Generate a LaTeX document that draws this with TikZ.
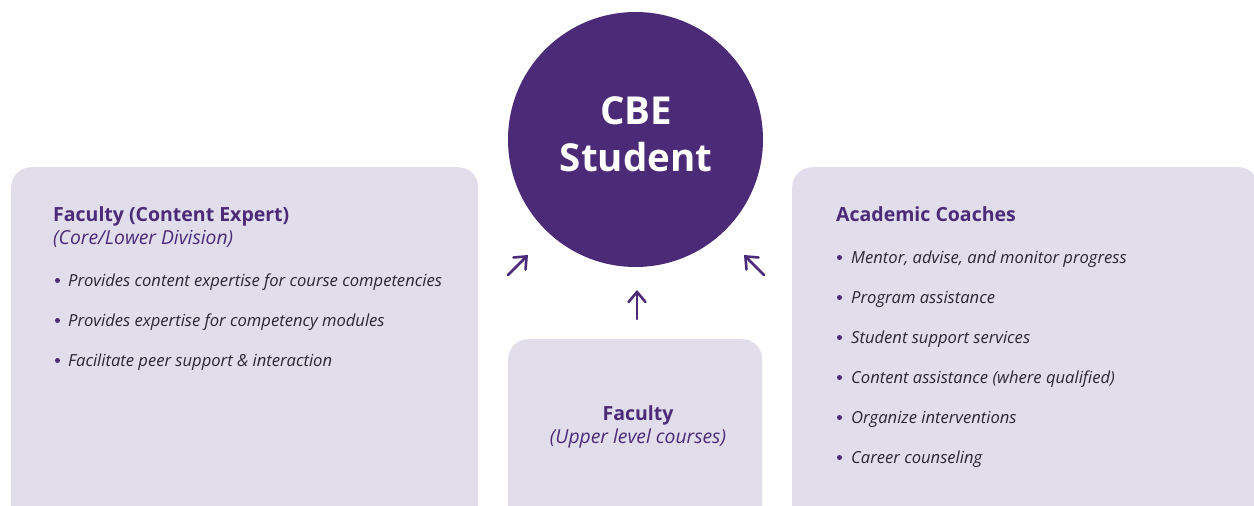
\documentclass[tikz,border=0pt]{standalone}
\usepackage{fontspec}
\setmainfont{Open Sans}
\usetikzlibrary{arrows.meta}
\definecolor{cbepurple}{HTML}{4B2A77}
\definecolor{boxfill}{HTML}{E1DDEB}
\definecolor{bodytext}{HTML}{2A2633}
\tikzset{
  infobox/.style={fill=boxfill, draw=none, rounded corners=20pt, inner sep=0pt, anchor=north west},
  titletext/.style={font=\fontsize{19.5}{22}\selectfont\bfseries, text=cbepurple, anchor=base west, inner sep=0pt},
  subtext/.style={font=\fontsize{19.3}{22}\selectfont\itshape, text=cbepurple, anchor=base west, inner sep=0pt},
  itemtext/.style={font=\fontsize{16.6}{19}\selectfont\itshape, text=bodytext, anchor=base west, inner sep=0pt},
  dot/.style={circle, fill=cbepurple, inner sep=0pt, minimum size=5pt},
  flowarrow/.style={draw=cbepurple, line width=2.6pt, line cap=round, -{Straight Barb[length=10pt,width=17pt,line cap=round]}},
}
\begin{document}
\begin{tikzpicture}[x=1pt,y=-1pt]
\useasboundingbox (0,0) rectangle (1254,506);
\clip (0,0) rectangle (1254,506);
% boxes
\node[infobox, minimum width=467pt, minimum height=380pt] (leftbox) at (11,167) {};
\node[infobox, minimum width=254pt, minimum height=220pt] (midbox) at (508,339) {};
\node[infobox, minimum width=466pt, minimum height=380pt] (rightbox) at (792,167) {};
% circle
\node[circle, fill=cbepurple, minimum size=255pt, inner sep=0pt] (student) at (635.5,139.5) {};
\node[font=\fontsize{38.5}{47}\selectfont\bfseries, text=white, align=center, inner sep=0pt] (studentlabel) at (636,134) {CBE\\Student};
% left box text
\node[titletext] (lefttitle) at (53,221) {Faculty (Content Expert)};
\node[subtext] (leftsub) at (53,244) {(Core/Lower Division)};
\foreach \y/\t [count=\i] in {286/Provides content expertise for course competencies, 326/Provides expertise for competency modules, 366/Facilitate peer support \& interaction}{
  \node[dot] (ldot\i) at (57.5,\y-5.5) {};
  \node[itemtext] (litem\i) at (68,\y) {\t};
}
% middle box text
\node[font=\fontsize{19.5}{22}\selectfont\bfseries, text=cbepurple, anchor=base, inner sep=0pt] (midtitle) at (638,420) {Faculty};
\node[font=\fontsize{19.3}{22}\selectfont\itshape, text=cbepurple, anchor=base, inner sep=0pt] (midsub) at (638,443) {(Upper level courses)};
% right box text
\node[titletext] (righttitle) at (836,221) {Academic Coaches};
\foreach \y/\t [count=\i] in {263/{Mentor, advise, and monitor progress}, 303/Program assistance, 343/Student support services, 383/Content assistance (where qualified), 423/Organize interventions, 463/Career counseling}{
  \node[dot] (rdot\i) at (839.5,\y-5.5) {};
  \node[itemtext] (ritem\i) at (851,\y) {\t};
}
% arrows
\coordinate (la1) at (508,275);
\coordinate (la2) at (528,255);
\coordinate (ma1) at (637,319);
\coordinate (ma2) at (637,290);
\coordinate (ra1) at (764,275);
\coordinate (ra2) at (744,255);
\draw[flowarrow] (la1) -- (la2);
\draw[flowarrow] (ma1) -- (ma2);
\draw[flowarrow] (ra1) -- (ra2);
\end{tikzpicture}
\end{document}
